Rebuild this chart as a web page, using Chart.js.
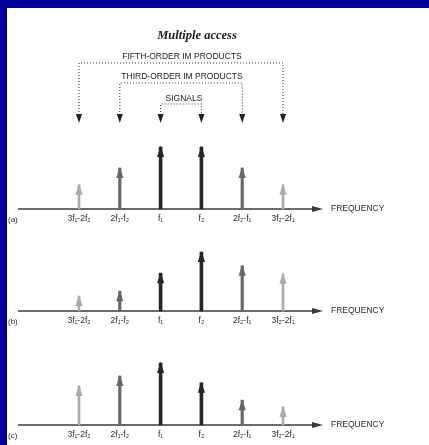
<!DOCTYPE html>
<html>
<head>
<meta charset="utf-8">
<script src="https://cdn.jsdelivr.net/npm/chart.js@4.4.0/dist/chart.umd.min.js"></script>
<style>
  html,body{margin:0;padding:0;background:#fff;}
  #wrap{position:relative;width:429px;height:445px;background:#fff;overflow:hidden;}
  .bar-top{position:absolute;left:0;top:0;width:429px;height:8px;background:#00009a;}
  .bar-left{position:absolute;left:0;top:0;width:7px;height:445px;background:#00009a;}
  canvas{position:absolute;left:0;}
</style>
</head>
<body>
<div id="wrap">
  <canvas id="ca" width="429" height="232" style="top:0px"></canvas>
  <canvas id="cb" width="429" height="100" style="top:232px"></canvas>
  <canvas id="cc" width="429" height="113" style="top:332px"></canvas>
  <div class="bar-top"></div>
  <div class="bar-left"></div>
</div>
<script>
// ---- data ----
const CATEGORIES = ['3f\u2081-2f\u2082', '2f\u2081-f\u2082', 'f\u2081', 'f\u2082', '2f\u2082-f\u2081', '3f\u2082-2f\u2081'];
const POSITIONS  = [1, 2, 3, 4, 5, 6];
const IM_ORDER   = [5, 3, 1, 1, 3, 5];   // 1 = signal, 3 = third-order, 5 = fifth-order
const PANEL_A    = [0.39, 0.66, 1.00, 1.00, 0.66, 0.39];
const PANEL_B    = [0.24, 0.32, 0.61, 0.95, 0.73, 0.60];
const PANEL_C    = [0.63, 0.79, 1.00, 0.68, 0.40, 0.29];
const PANEL_NAMES = ['(a)', '(b)', '(c)'];
const AXIS_TITLE = 'FREQUENCY';
const HEADER_TITLE = 'Multiple access';
const GROUP_LABELS = ['FIFTH-ORDER IM PRODUCTS', 'THIRD-ORDER IM PRODUCTS', 'SIGNALS'];

// ---- styles ----
const STYLE = {
  1: {color: '#262626', width: 3},
  3: {color: '#676767', width: 2.5},
  5: {color: '#ababab', width: 2}
};
const SANS = '"Liberation Sans", Arial, sans-serif';

function buildDatasets(values) {
  return [1, 3, 5].map(ord => ({
    label: 'order ' + ord,
    data: POSITIONS.map((p, i) => ({x: p, y: values[i], o: IM_ORDER[i]})).filter(d => d.o === ord),
    backgroundColor: STYLE[ord].color,
    barThickness: STYLE[ord].width,
    grouped: false,
    clip: false,
    _ord: ord
  }));
}

const arrowPlugin = {
  id: 'arrows',
  beforeDatasetsDraw(chart, args, opts) {
    const ctx = chart.ctx, ca = chart.chartArea;
    const y = ca.bottom;
    ctx.save();
    ctx.strokeStyle = '#3a3a3a';
    ctx.fillStyle = '#3a3a3a';
    ctx.lineWidth = 1.5;
    ctx.beginPath();
    ctx.moveTo(ca.left, y);
    ctx.lineTo(ca.right - 6, y);
    ctx.stroke();
    ctx.beginPath();
    ctx.moveTo(ca.right, y);
    ctx.lineTo(ca.right - 11, y - 3);
    ctx.lineTo(ca.right - 11, y + 3);
    ctx.closePath();
    ctx.fill();
    ctx.font = '8.5px ' + SANS;
    ctx.textBaseline = 'middle';
    ctx.textAlign = 'left';
    ctx.fillStyle = '#2a2a2a';
    ctx.fillText(AXIS_TITLE, ca.right + 8, y);
    ctx.font = '8px ' + SANS;
    ctx.fillText(opts.panel, 8, y + 11);
    ctx.restore();
  },
  afterDatasetsDraw(chart) {
    const ctx = chart.ctx;
    ctx.save();
    chart.data.datasets.forEach((ds, di) => {
      const meta = chart.getDatasetMeta(di);
      const st = STYLE[ds._ord];
      meta.data.forEach(el => {
        const tip = el.y - 1;
        const len = 11, hw = 3.6;
        ctx.fillStyle = st.color;
        ctx.beginPath();
        ctx.moveTo(el.x, tip);
        ctx.lineTo(el.x - hw, tip + len);
        ctx.lineTo(el.x + hw, tip + len);
        ctx.closePath();
        ctx.fill();
      });
    });
    ctx.restore();
  }
};

const headerPlugin = {
  id: 'header',
  afterDraw(chart) {
    const ctx = chart.ctx;
    const xs = chart.scales.x;
    const px = i => xs.getPixelForValue(POSITIONS[i]);
    ctx.save();
    ctx.fillStyle = '#1a1a1a';
    ctx.textAlign = 'center';
    ctx.textBaseline = 'middle';
    ctx.font = 'italic bold 12.5px "Liberation Serif", "Times New Roman", serif';
    ctx.fillText(HEADER_TITLE, 197, 36);
    // brackets: [first index, last index, line y, label y]
    const groups = [[0, 5, 63, 57], [1, 4, 83, 77], [2, 3, 104, 99]];
    const tipY = 123;
    groups.forEach((g, k) => {
      const x1 = px(g[0]), x2 = px(g[1]);
      ctx.strokeStyle = '#333';
      ctx.lineWidth = 1.1;
      ctx.setLineDash([1, 2]);
      ctx.beginPath();
      ctx.moveTo(x1, tipY - 8);
      ctx.lineTo(x1, g[2]);
      ctx.lineTo(x2, g[2]);
      ctx.lineTo(x2, tipY - 8);
      ctx.stroke();
      ctx.setLineDash([]);
      ctx.fillStyle = '#222';
      [x1, x2].forEach(x => {
        ctx.beginPath();
        ctx.moveTo(x, tipY);
        ctx.lineTo(x - 3, tipY - 9);
        ctx.lineTo(x + 3, tipY - 9);
        ctx.closePath();
        ctx.fill();
      });
      ctx.font = '8.5px ' + SANS;
      ctx.fillStyle = '#222';
      ctx.fillText(GROUP_LABELS[k], (x1 + x2) / 2 + (k === 2 ? 3 : 1), g[3]);
    });
    ctx.restore();
  }
};

function makeChart(id, values, padTop, axisH, panel, extraPlugins) {
  return new Chart(document.getElementById(id), {
    type: 'bar',
    data: {datasets: buildDatasets(values)},
    plugins: [arrowPlugin].concat(extraPlugins || []),
    options: {
      responsive: false,
      animation: false,
      events: [],
      layout: {padding: {left: 18, right: 106, top: padTop, bottom: 0}},
      plugins: {
        legend: {display: false},
        tooltip: {enabled: false},
        title: {display: false},
        arrows: {panel: panel}
      },
      scales: {
        x: {
          type: 'linear',
          offset: false,
          min: -0.495,
          max: 6.98,
          grid: {display: false, drawTicks: false, offset: false},
          border: {display: false},
          afterBuildTicks: s => { s.ticks = POSITIONS.map(v => ({value: v})); },
          afterFit: s => { s.height = axisH; },
          ticks: {
            autoSkip: false,
            maxRotation: 0,
            padding: 5,
            color: '#2a2a2a',
            font: {size: 8.5, family: SANS},
            callback: (v, i) => CATEGORIES[i]
          }
        },
        y: {display: false, min: 0, max: 1}
      }
    }
  });
}

makeChart('ca', PANEL_A, 147, 23, PANEL_NAMES[0], [headerPlugin]);
makeChart('cb', PANEL_B, 17, 21, PANEL_NAMES[1]);
makeChart('cc', PANEL_C, 31, 20, PANEL_NAMES[2]);
</script>
</body>
</html>
